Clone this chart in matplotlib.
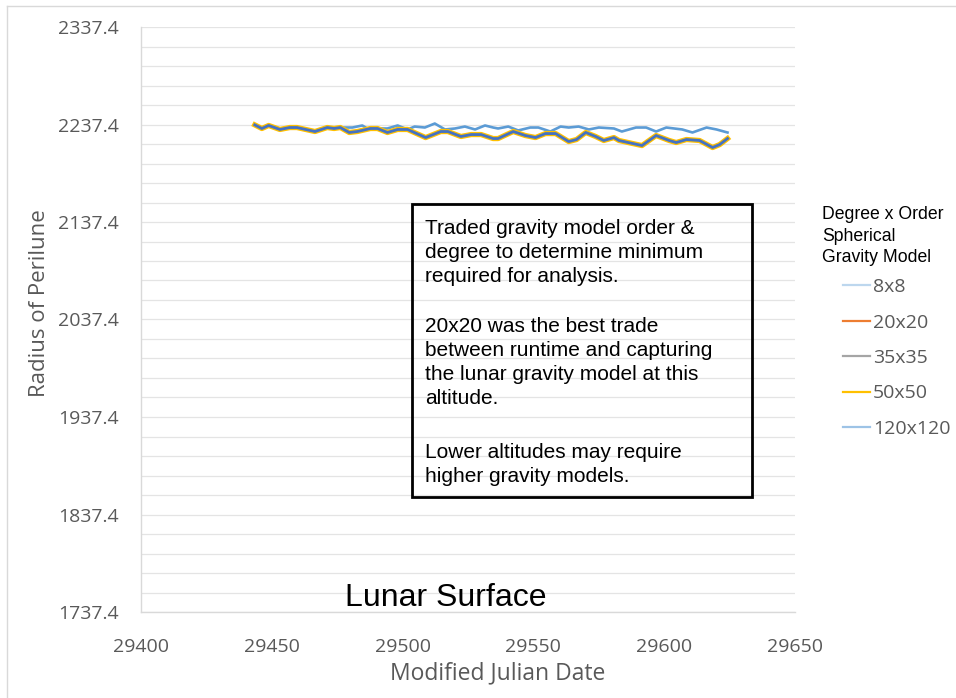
import numpy as np
import matplotlib.pyplot as plt
from matplotlib.lines import Line2D

# Modified Julian Date / radius of perilune (km)
mjd_hi = [29443.5, 29446.2, 29448.8, 29453.1, 29456.9, 29459.6, 29466.5, 29471.2,
          29473.8, 29476.2, 29480.8, 29484.6, 29486.5, 29494.2, 29498.1, 29501.9,
          29504.6, 29508.5, 29512.3, 29516.2, 29520.0, 29523.8, 29527.7, 29531.5,
          29534.6, 29536.5, 29540.4, 29544.2, 29548.8, 29551.9, 29556.5, 29560.4,
          29563.5, 29567.3, 29571.2, 29575.0, 29580.8, 29583.8, 29589.2, 29593.1,
          29596.9, 29600.8, 29606.9, 29610.8, 29616.2, 29620.0, 29624.2]
r_8x8 = [2237.0, 2233.3, 2236.4, 2232.3, 2234.3, 2234.3, 2230.2, 2234.3,
         2233.3, 2234.3, 2234.3, 2236.4, 2233.3, 2233.3, 2236.4, 2232.3,
         2235.3, 2234.3, 2238.4, 2232.3, 2233.3, 2235.3, 2232.3, 2236.4,
         2234.3, 2233.3, 2235.3, 2231.3, 2234.3, 2234.3, 2230.2, 2235.3,
         2234.3, 2235.3, 2232.3, 2234.3, 2233.3, 2230.2, 2234.3, 2234.3,
         2230.2, 2234.3, 2232.3, 2229.2, 2234.3, 2232.3, 2229.2]

mjd_lo = [29443.5, 29446.2, 29448.8, 29453.1, 29456.9, 29459.6, 29466.5, 29471.2,
          29473.8, 29476.2, 29479.6, 29482.7, 29487.7, 29490.4, 29494.2, 29498.1,
          29501.9, 29508.8, 29514.6, 29517.3, 29522.3, 29526.2, 29530.0, 29534.6,
          29536.5, 29542.3, 29546.9, 29550.8, 29554.6, 29558.5, 29563.5, 29566.5,
          29570.0, 29573.8, 29576.9, 29580.8, 29582.7, 29591.5, 29596.9, 29601.9,
          29604.6, 29608.5, 29613.5, 29618.5, 29621.2, 29624.2]
r_20x20 = [2237.0, 2233.3, 2236.4, 2232.3, 2234.3, 2234.3, 2230.2, 2234.3,
           2233.3, 2234.3, 2229.2, 2230.2, 2233.3, 2233.3, 2229.2, 2232.3,
           2232.3, 2224.0, 2230.2, 2230.2, 2225.1, 2227.1, 2227.1, 2223.0,
           2223.0, 2230.2, 2226.1, 2224.0, 2228.1, 2228.1, 2219.9, 2222.0,
           2229.2, 2225.1, 2221.0, 2224.0, 2221.0, 2215.8, 2226.1, 2221.0,
           2218.9, 2222.0, 2221.0, 2213.8, 2216.8, 2223.0]
# higher order models overlay the 20x20 curve
r_35x35 = list(r_20x20)
r_50x50 = list(r_20x20)
r_120x120 = list(r_20x20)

labels = ["8x8", "20x20", "35x35", "50x50", "120x120"]
colors = ["#5B9BD5", "#ED7D31", "#A5A5A5", "#FFC000", "#4472C4"]

W, H = 956, 698
fig = plt.figure(figsize=(W / 100, H / 100), dpi=100)
ax = fig.add_axes([141 / W, 1 - 612 / H, (795 - 141) / W, (612 - 27) / H])

ax.plot(mjd_hi, r_8x8, color=colors[0], lw=1.9, label=labels[0])
ax.plot(mjd_lo, r_20x20, color=colors[1], lw=2.4, label=labels[1])
ax.plot(mjd_lo, r_35x35, color=colors[2], lw=2.4, label=labels[2])
ax.plot(mjd_lo, r_50x50, color=colors[3], lw=3.8, label=labels[3])
ax.plot(mjd_lo, r_120x120, color=colors[4], lw=2.0, label=labels[4])

yt = np.arange(1737.4, 2337.5, 100)
ax.set_xlim(29400, 29650)
ax.set_ylim(1737.4, 2337.4)
ax.set_xticks(np.arange(29400, 29651, 50))
ax.set_yticks(yt)
ax.set_yticklabels([f"{v:.1f}" for v in yt])
ax.yaxis.set_minor_locator(plt.FixedLocator(np.arange(1737.4, 2337.5, 20)))
ax.grid(axis="y", which="both", color="#E4E4E4", lw=0.9)
ax.set_axisbelow(True)
ax.tick_params(which="both", length=0, labelsize=14, labelcolor="#595959")
ax.tick_params(axis="y", pad=16)
ax.tick_params(axis="x", pad=19)
for lab in ax.get_xticklabels() + ax.get_yticklabels():
    lab.set_fontfamily("Open Sans")
for s in ["top", "right"]:
    ax.spines[s].set_visible(False)
for s in ["left", "bottom"]:
    ax.spines[s].set_color("#D9D9D9")
    ax.spines[s].set_linewidth(1.0)

fig.text(40 / W, 1 - 303 / H, "Radius of Perilune", rotation=90, ha="center", va="center",
         fontsize=16, color="#595959", family="Open Sans")
fig.text(498 / W, 1 - 673 / H, "Modified Julian Date", ha="center", va="center",
         fontsize=16.5, color="#595959", family="Open Sans")

ax.text(29516.5, 1744, "Lunar Surface", ha="center", va="baseline", fontsize=23,
        family="Liberation Sans", color="black")

paras = [("Traded gravity model order &\ndegree to determine minimum\n"
          "required for analysis.", 231),
         ("20x20 was the best trade\nbetween runtime and capturing\n"
          "the lunar gravity model at this\naltitude.", 329),
         ("Lower altitudes may require\nhigher gravity models.", 455)]
for txt, ytop in paras:
    fig.text(425 / W, 1 - (ytop - 12) / H, txt, ha="left", va="top", fontsize=15,
             family="Liberation Sans", linespacing=1.33)
fig.patches.append(plt.Rectangle((412 / W, 1 - 497 / H), (752 - 412) / W, (497 - 204) / H,
                                 transform=fig.transFigure, fill=False, ec="black", lw=2))

fig.text(822 / W, 1 - 206 / H, "Degree x Order\nSpherical\nGravity Model", ha="left",
         va="top", fontsize=12.7, family="Liberation Sans", linespacing=1.35)
leg = ax.legend(loc="upper left", bbox_to_anchor=(843 / W, 1 - 278 / H),
                bbox_transform=fig.transFigure, frameon=False, borderpad=0,
                borderaxespad=0, handlelength=1.4, handletextpad=0.15,
                labelspacing=0.9, prop={"family": "Open Sans", "size": 14})
for t in leg.get_texts():
    t.set_color("#595959")
leg_colors = ["#BDD7EE", "#ED7D31", "#A5A5A5", "#FFC000", "#9DC3E6"]
for h, c in zip(leg.get_lines(), leg_colors):
    h.set_linewidth(1.6)
    h.set_color(c)

# outer chart frame (left and top edges visible)
fig.lines.append(Line2D([7 / W, 7 / W], [0, 1 - 6 / H], transform=fig.transFigure,
                        color="#D9D9D9", lw=1))
fig.lines.append(Line2D([7 / W, 1], [1 - 6 / H, 1 - 6 / H], transform=fig.transFigure,
                        color="#D9D9D9", lw=1))

fig.savefig("out.png", dpi=100)
